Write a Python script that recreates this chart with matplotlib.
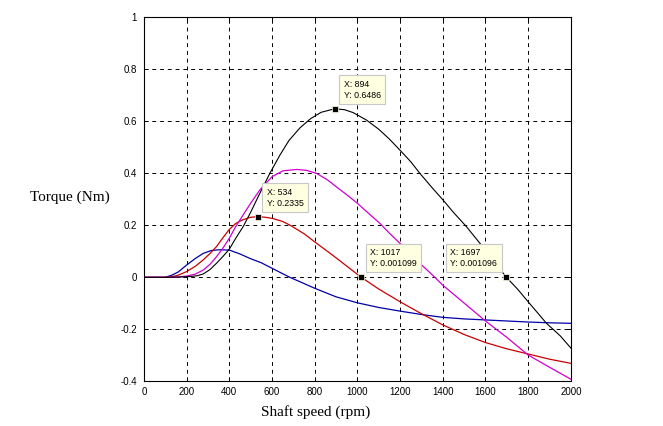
import matplotlib
matplotlib.use('Agg')
import matplotlib.pyplot as plt
import numpy as np

# values
black_rpm = [0, 100, 200, 250, 278, 310, 340, 370, 400, 430, 465, 500, 543, 590, 637, 680,
             731, 780, 830, 894, 940, 980, 1043, 1100, 1150, 1199, 1250, 1293, 1350, 1402,
             1450, 1511, 1574, 1640, 1697, 1750, 1800, 1886, 1950, 2000]
black_tq = [0, 0, 0.002, 0.006, 0.013, 0.03, 0.054, 0.08, 0.108, 0.15, 0.195, 0.25, 0.323, 0.40,
            0.47, 0.527, 0.575, 0.61, 0.635, 0.6486, 0.645, 0.634, 0.605, 0.57, 0.532, 0.49,
            0.445, 0.40, 0.345, 0.297, 0.25, 0.195, 0.131, 0.062, 0.001, -0.045, -0.094,
            -0.177, -0.225, -0.272]

magenta_rpm = [0, 100, 150, 200, 240, 278, 310, 340, 370, 400, 430, 465, 500, 543, 600, 652,
               715, 760, 809, 860, 902, 950, 1000, 1050, 1105, 1150, 1199, 1250, 1293, 1363,
               1400, 1500, 1600, 1700, 1800, 1900, 2000]
magenta_tq = [0, 0, 0, 0.005, 0.012, 0.028, 0.05, 0.079, 0.112, 0.15, 0.195, 0.24, 0.285, 0.336,
              0.387, 0.41, 0.415, 0.412, 0.40, 0.375, 0.348, 0.318, 0.285, 0.248, 0.208, 0.17,
              0.131, 0.092, 0.054, 0.0, -0.03, -0.099, -0.168, -0.231, -0.299, -0.346, -0.392]

red_rpm = [0, 100, 130, 160, 200, 240, 278, 310, 340, 370, 400, 430, 465, 500, 534, 570, 606,
           650, 684, 750, 809, 860, 902, 960, 1017, 1100, 1200, 1300, 1400, 1500, 1600, 1700,
           1800, 1900, 2000]
red_tq = [0, 0, 0.002, 0.008, 0.022, 0.042, 0.067, 0.092, 0.118, 0.152, 0.184, 0.207, 0.222,
          0.231, 0.2335, 0.231, 0.226, 0.215, 0.201, 0.168, 0.131, 0.100, 0.074, 0.037, 0.001,
          -0.045, -0.094, -0.14, -0.183, -0.22, -0.251, -0.275, -0.295, -0.315, -0.331]

blue_rpm = [0, 100, 130, 160, 200, 240, 278, 315, 350, 400, 450, 496, 550, 600, 650, 684, 731,
            800, 900, 1000, 1100, 1200, 1300, 1400, 1500, 1600, 1700, 1800, 1900, 2000]
blue_tq = [0, 0, 0.008, 0.02, 0.047, 0.072, 0.092, 0.103, 0.106, 0.105, 0.09, 0.073, 0.056,
           0.035, 0.014, 0.0, -0.017, -0.042, -0.075, -0.098, -0.116, -0.130, -0.143, -0.154,
           -0.16, -0.164, -0.168, -0.172, -0.175, -0.177]

# data tips: x, y, side
tip_x = [894, 534, 1017, 1697]
tip_y = [0.6486, 0.2335, 0.001099, 0.001096]
tip_text = ['X: 894\nY: 0.6486', 'X: 534\nY: 0.2335', 'X: 1017\nY: 0.001099', 'X: 1697\nY: 0.001096']
tip_side = ['right', 'right', 'right', 'left']

x_ticks = np.arange(0, 2001, 200)
y_ticks = [-0.4, -0.2, 0, 0.2, 0.4, 0.6, 0.8, 1]
y_ticklabels = ['-0.4', '-0.2', '0', '0.2', '0.4', '0.6', '0.8', '1']

plt.rcParams['font.family'] = ['Liberation Sans', 'DejaVu Sans']
plt.rcParams['axes.unicode_minus'] = False

fig = plt.figure(figsize=(6.63, 4.26), dpi=100)
fig.patch.set_facecolor('white')
ax = fig.add_axes([0.217, 0.105, 0.644, 0.854])

ax.plot(blue_rpm, blue_tq, color='#0000a8', lw=0.9)
ax.plot(red_rpm, red_tq, color='#c80000', lw=0.9)
ax.plot(magenta_rpm, magenta_tq, color='#d000d0', lw=0.9)
ax.plot(black_rpm, black_tq, color='black', lw=0.8)

ax.set_xlim(0, 2000)
ax.set_ylim(-0.4, 1)
ax.set_xticks(x_ticks)
ax.set_xticklabels([str(v) for v in x_ticks])
ax.set_yticks(y_ticks)
ax.set_yticklabels(y_ticklabels)
ax.tick_params(direction='in', length=3, width=0.7, labelsize=7, top=True, right=True)
ax.tick_params(axis='x', pad=4)
ax.tick_params(axis='y', pad=5)
ax.grid(True, color='black', linestyle=(0, (4, 4)), linewidth=0.7)
for s in ax.spines.values():
    s.set_linewidth(0.8)

for x, y, t, side in zip(tip_x, tip_y, tip_text, tip_side):
    ax.plot([x], [y], 's', color='black', markersize=4.5, markeredgecolor='#ffffe1',
            markeredgewidth=0.5, zorder=5)
    dx = 9 if side == 'right' else -9
    ax.annotate(t, xy=(x, y), xytext=(dx, 9), textcoords='offset pixels',
                ha='left' if side == 'right' else 'right', va='bottom', fontsize=6.3,
                multialignment='left', linespacing=1.3,
                bbox=dict(boxstyle='square,pad=0.5', fc='#ffffe1', ec='#c8c8c8', lw=0.8),
                zorder=6)

fig.text(316 / 663, 1 - 412 / 426, 'Shaft speed (rpm)', family='Liberation Serif',
         fontsize=11, ha='center', va='center')
fig.text(70 / 663, 1 - 197 / 426, 'Torque (Nm)', family='Liberation Serif',
         fontsize=11, ha='center', va='center')

fig.savefig('out.png', dpi=100, facecolor='white')
